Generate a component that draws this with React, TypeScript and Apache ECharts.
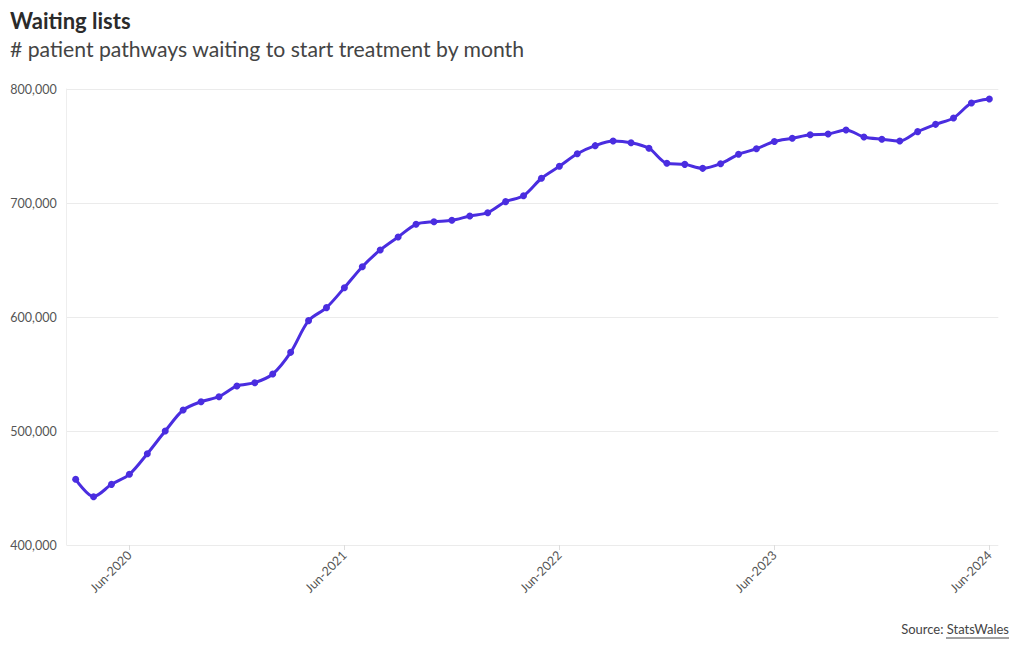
import React, { useEffect, useRef } from "react";
import * as echarts from "echarts";

const months: string[] = [
  "Mar-2020","Apr-2020","May-2020","Jun-2020","Jul-2020","Aug-2020","Sep-2020","Oct-2020","Nov-2020","Dec-2020",
  "Jan-2021","Feb-2021","Mar-2021","Apr-2021","May-2021","Jun-2021","Jul-2021","Aug-2021","Sep-2021","Oct-2021","Nov-2021","Dec-2021",
  "Jan-2022","Feb-2022","Mar-2022","Apr-2022","May-2022","Jun-2022","Jul-2022","Aug-2022","Sep-2022","Oct-2022","Nov-2022","Dec-2022",
  "Jan-2023","Feb-2023","Mar-2023","Apr-2023","May-2023","Jun-2023","Jul-2023","Aug-2023","Sep-2023","Oct-2023","Nov-2023","Dec-2023",
  "Jan-2024","Feb-2024","Mar-2024","Apr-2024","May-2024","Jun-2024",
];

const waiting: number[] = [
  457600, 442400, 453200, 462000, 480100, 500000, 518400, 525700, 530100, 539500,
  542400, 550000, 569000, 596800, 608200, 625700, 644100, 658800, 670200, 681300, 683600, 684800,
  688600, 691500, 701200, 706400, 721700, 732200, 743200, 750300, 754400, 752900, 748000, 734800,
  733900, 730400, 734500, 742700, 747600, 754000, 756800, 759900, 760500, 764000, 757900, 755900,
  754400, 762600, 769000, 774600, 787700, 791300,
];

const yTicks: number[] = [400000, 500000, 600000, 700000, 800000];

const title = "Waiting lists";
const subtitle = "# patient pathways waiting to start treatment by month";

export default function App() {
  const ref = useRef<HTMLDivElement>(null);
  useEffect(() => {
    document.body.style.margin = "0";
    if (!ref.current) return;
    const chart = echarts.init(ref.current, null, { renderer: "svg" });
    const font = "Lato, 'Noto Sans', sans-serif";
    chart.setOption({
      animation: false,
      textStyle: { fontFamily: font },
      grid: { left: 66.7, right: 21.7, top: 89, bottom: 105, containLabel: false },
      graphic: [
        { type: "text", left: 10, top: 9, style: { text: title, font: `bold 22px ${font}`, fill: "#2b2b2b" } },
        { type: "text", left: 10, top: 38, style: { text: subtitle, font: `21.2px ${font}`, fill: "#444" } },
        { type: "text", right: 11, top: 622, style: { text: "Source: StatsWales", font: `13px ${font}`, fill: "#444" } },
        { type: "line", shape: { x1: 946, y1: 638, x2: 1009, y2: 638 }, style: { stroke: "#444", lineWidth: 1 } },
      ],
      xAxis: {
        type: "category",
        data: months,
        boundaryGap: true,
        axisLine: { show: false },
        axisTick: {
          show: true,
          alignWithLabel: true,
          interval: (i: number) => i % 12 === 3,
          length: 5,
          lineStyle: { color: "#ddd" },
        },
        axisLabel: {
          interval: (i: number) => i % 12 === 3,
          rotate: 45,
          color: "#555",
          fontSize: 12.5,
          fontFamily: font,
          margin: 8,
        },
        splitLine: { show: false },
      },
      yAxis: {
        type: "value",
        min: yTicks[0],
        max: yTicks[yTicks.length - 1],
        interval: 100000,
        axisLine: { show: true, lineStyle: { color: "#eee" } },
        axisTick: { show: false },
        axisLabel: {
          color: "#555",
          fontSize: 12.5,
          fontFamily: font,
          margin: 10,
          formatter: (v: number) => v.toLocaleString("en-US"),
        },
        splitLine: { lineStyle: { color: "#ebebeb", width: 1 } },
      },
      series: [
        {
          type: "line",
          data: waiting,
          smooth: 0.3,
          symbol: "circle",
          symbolSize: 7,
          lineStyle: { color: "#4a2de0", width: 3 },
          itemStyle: { color: "#4a2de0" },
        },
      ],
    });
    return () => chart.dispose();
  }, []);
  return <div ref={ref} style={{ width: 1020, height: 650 }} />;
}
